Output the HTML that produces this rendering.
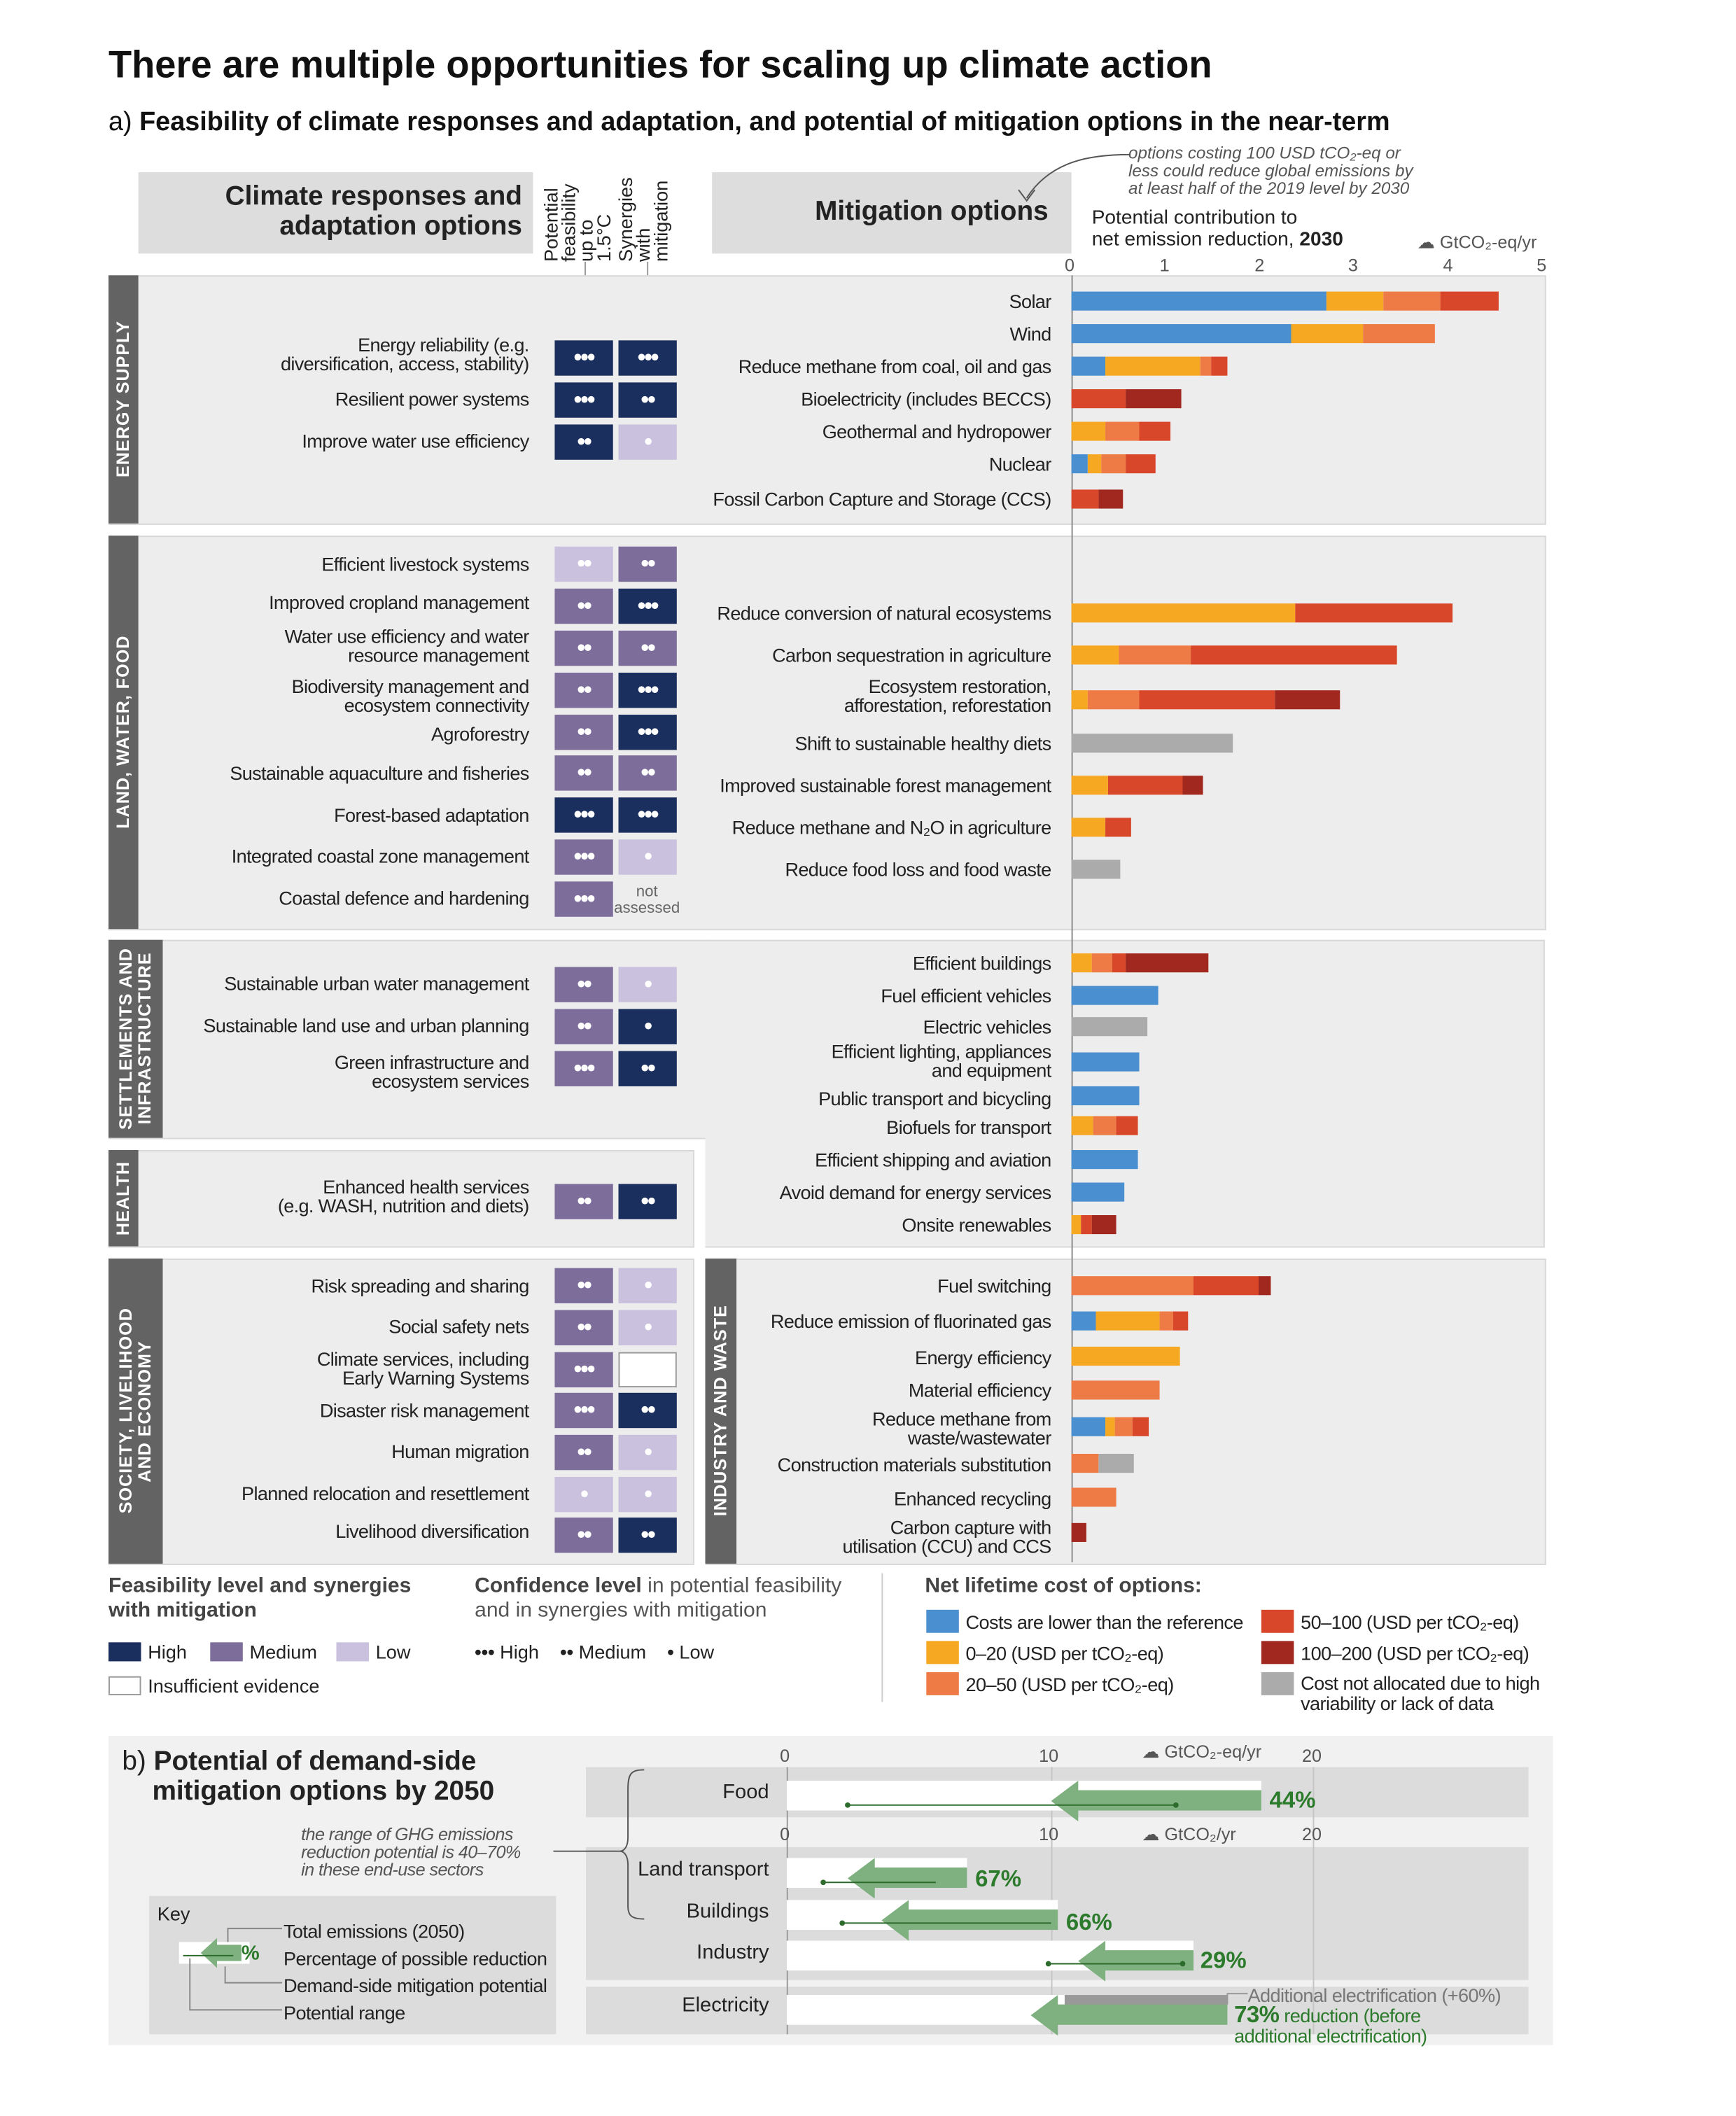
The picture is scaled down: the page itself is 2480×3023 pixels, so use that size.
<!DOCTYPE html>
<html><head><meta charset="utf-8">
<style>
body{margin:0;width:2480px;height:3021px;background:#fff;overflow:hidden}
#w{position:absolute;left:0;top:0;width:1280px;height:1560px;transform:scale(1.9375);transform-origin:0 0;font-family:"Liberation Sans Narrow","Liberation Sans",sans-serif;color:#222}
.a{position:absolute}
.pn{position:absolute;background:#ededed;border:1px solid #d8d8d8}
.sb{position:absolute;background:#636363;color:#fff;font-weight:bold;font-size:13px;writing-mode:vertical-rl;transform:rotate(180deg);display:flex;align-items:center;justify-content:center;text-align:center;line-height:14px;letter-spacing:.5px}
.lt{position:absolute;right:0;text-align:right;font-size:14px;letter-spacing:-0.35px;line-height:14px;white-space:nowrap}
.ll{position:absolute;width:390px;left:0}
.sq{position:absolute;width:43px;height:26px;color:#fff;font-size:17px;text-align:center;line-height:26px;font-weight:bold;letter-spacing:-1px}
.H{background:#1b2f5e}.M{background:#7d6d9b}.L{background:#c9c1dd}
.b{position:absolute;height:14px}
.bl{background:#4a8fd0}.ye{background:#f7a823}.or{background:#ee7b45}.rd{background:#d9472a}.dr{background:#a1281e}.gr{background:#ababab}
</style></head><body><div id="w">
<div class="a" style="left:80px;top:32px;font-family:'Liberation Sans',sans-serif;font-size:28px;font-weight:bold;color:#111">There are multiple opportunities for scaling up climate action</div>
<div class="a" style="left:80px;top:79px;font-family:'Liberation Sans',sans-serif;font-size:19.5px;color:#111">a) <b>Feasibility of climate responses and adaptation, and potential of mitigation options in the near-term</b></div>

<div class="a" style="left:102px;top:127px;width:291px;height:60px;background:#ddd"></div>
<div class="a" style="left:110px;top:134px;width:275px;text-align:right;font-size:20px;line-height:22px;font-weight:bold">Climate responses and<br>adaptation options</div>
<div class="a" style="left:400px;top:125px;width:55px;height:68px;writing-mode:vertical-rl;transform:rotate(180deg);font-size:14px;line-height:13px">Potential feasibility up to 1.5°C</div>
<div class="a" style="left:455px;top:125px;width:55px;height:68px;writing-mode:vertical-rl;transform:rotate(180deg);font-size:14px;line-height:13px">Synergies with mitigation</div>
<div class="a" style="left:431px;top:193px;width:1px;height:10px;background:#999"></div>
<div class="a" style="left:477px;top:193px;width:1px;height:10px;background:#999"></div>
<div class="a" style="left:525px;top:127px;width:265px;height:60px;background:#ddd"></div>
<div class="a" style="left:525px;top:145px;width:248px;text-align:right;font-size:20px;font-weight:bold">Mitigation options</div>
<div class="a" style="left:832px;top:107px;font-size:12.5px;font-style:italic;color:#555;line-height:13px">options costing 100 USD tCO₂-eq or<br>less could reduce global emissions by<br>at least half of the 2019 level by 2030</div>
<svg class="a" style="left:745px;top:108px" width="90" height="45"><path d="M88 6 C60 6 30 10 12 38" fill="none" stroke="#555"/><path d="M6 32 L12 40 L18 32" fill="none" stroke="#555"/></svg>
<div class="a" style="left:805px;top:153px;font-size:14.5px;line-height:16px">Potential contribution to<br>net emission reduction, <b>2030</b></div>
<div class="a" style="left:1045px;top:171px;font-size:13px;color:#555">☁ GtCO₂-eq/yr</div>
<div class="a" style="left:785px;top:188px;font-size:13px;color:#555">0</div>
<div class="a" style="left:855px;top:188px;font-size:13px;color:#555">1</div>
<div class="a" style="left:925px;top:188px;font-size:13px;color:#555">2</div>
<div class="a" style="left:994px;top:188px;font-size:13px;color:#555">3</div>
<div class="a" style="left:1064px;top:188px;font-size:13px;color:#555">4</div>
<div class="a" style="left:1133px;top:188px;font-size:13px;color:#555">5</div>

<div class="pn" style="left:80px;top:203px;width:1058px;height:182px"></div>
<div class="pn" style="left:80px;top:395px;width:1058px;height:289px"></div>
<div class="pn" style="left:80px;top:693px;width:440px;height:145px"></div>
<div class="pn" style="left:520px;top:693px;width:618px;height:225px;border-left:none"></div>
<div class="pn" style="left:80px;top:848px;width:430px;height:70px"></div>
<div class="pn" style="left:80px;top:928px;width:430px;height:224px"></div>
<div class="pn" style="left:520px;top:928px;width:618px;height:224px"></div>
<div class="sb" style="left:80px;top:203px;width:22px;height:183px">ENERGY SUPPLY</div>
<div class="sb" style="left:80px;top:395px;width:22px;height:290px">LAND, WATER, FOOD</div>
<div class="sb" style="left:80px;top:693px;width:40px;height:146px">SETTLEMENTS AND<br>INFRASTRUCTURE</div>
<div class="sb" style="left:80px;top:848px;width:22px;height:71px">HEALTH</div>
<div class="sb" style="left:80px;top:928px;width:40px;height:225px">SOCIETY, LIVELIHOOD<br>AND ECONOMY</div>
<div class="sb" style="left:520px;top:928px;width:23px;height:225px">INDUSTRY AND WASTE</div>
<div class="a" style="left:790px;top:203px;width:1px;height:949px;background:#888"></div>

<div class="ll">
<div class="lt" style="top:247px">Energy reliability (e.g.<br>diversification, access, stability)</div>
<div class="lt" style="top:287px">Resilient power systems</div>
<div class="lt" style="top:318px">Improve water use efficiency</div>
<div class="lt" style="top:409px">Efficient livestock systems</div>
<div class="lt" style="top:437px">Improved cropland management</div>
<div class="lt" style="top:462px">Water use efficiency and water<br>resource management</div>
<div class="lt" style="top:499px">Biodiversity management and<br>ecosystem connectivity</div>
<div class="lt" style="top:534px">Agroforestry</div>
<div class="lt" style="top:563px">Sustainable aquaculture and fisheries</div>
<div class="lt" style="top:594px">Forest-based adaptation</div>
<div class="lt" style="top:624px">Integrated coastal zone management</div>
<div class="lt" style="top:655px">Coastal defence and hardening</div>
<div class="lt" style="top:718px">Sustainable urban water management</div>
<div class="lt" style="top:749px">Sustainable land use and urban planning</div>
<div class="lt" style="top:776px">Green infrastructure and<br>ecosystem services</div>
<div class="lt" style="top:868px">Enhanced health services<br>(e.g. WASH, nutrition and diets)</div>
<div class="lt" style="top:941px">Risk spreading and sharing</div>
<div class="lt" style="top:971px">Social safety nets</div>
<div class="lt" style="top:995px">Climate services, including<br>Early Warning Systems</div>
<div class="lt" style="top:1033px">Disaster risk management</div>
<div class="lt" style="top:1063px">Human migration</div>
<div class="lt" style="top:1094px">Planned relocation and resettlement</div>
<div class="lt" style="top:1122px">Livelihood diversification</div>
</div>
<div class="sq H" style="left:409px;top:251px">•••</div><div class="sq H" style="left:456px;top:251px">•••</div>
<div class="sq H" style="left:409px;top:282px">•••</div><div class="sq H" style="left:456px;top:282px">••</div>
<div class="sq H" style="left:409px;top:313px">••</div><div class="sq L" style="left:456px;top:313px">•</div>
<div class="sq L" style="left:409px;top:403px">••</div><div class="sq M" style="left:456px;top:403px">••</div>
<div class="sq M" style="left:409px;top:434px">••</div><div class="sq H" style="left:456px;top:434px">•••</div>
<div class="sq M" style="left:409px;top:465px">••</div><div class="sq M" style="left:456px;top:465px">••</div>
<div class="sq M" style="left:409px;top:496px">••</div><div class="sq H" style="left:456px;top:496px">•••</div>
<div class="sq M" style="left:409px;top:527px">••</div><div class="sq H" style="left:456px;top:527px">•••</div>
<div class="sq M" style="left:409px;top:557px">••</div><div class="sq M" style="left:456px;top:557px">••</div>
<div class="sq H" style="left:409px;top:588px">•••</div><div class="sq H" style="left:456px;top:588px">•••</div>
<div class="sq M" style="left:409px;top:619px">•••</div><div class="sq L" style="left:456px;top:619px">•</div>
<div class="sq M" style="left:409px;top:650px">•••</div>
<div class="a" style="left:452px;top:652px;width:50px;text-align:center;font-size:11.5px;line-height:12px;color:#666">not<br>assessed</div>
<div class="sq M" style="left:409px;top:713px">••</div><div class="sq L" style="left:456px;top:713px">•</div>
<div class="sq M" style="left:409px;top:744px">••</div><div class="sq H" style="left:456px;top:744px">•</div>
<div class="sq M" style="left:409px;top:775px">•••</div><div class="sq H" style="left:456px;top:775px">••</div>
<div class="sq M" style="left:409px;top:873px">••</div><div class="sq H" style="left:456px;top:873px">••</div>
<div class="sq M" style="left:409px;top:935px">••</div><div class="sq L" style="left:456px;top:935px">•</div>
<div class="sq M" style="left:409px;top:966px">••</div><div class="sq L" style="left:456px;top:966px">•</div>
<div class="sq M" style="left:409px;top:997px">•••</div><div class="sq" style="left:456px;top:997px;background:#fff;border:1px solid #999;width:41px;height:24px"></div>
<div class="sq M" style="left:409px;top:1027px">•••</div><div class="sq H" style="left:456px;top:1027px">••</div>
<div class="sq M" style="left:409px;top:1058px">••</div><div class="sq L" style="left:456px;top:1058px">•</div>
<div class="sq L" style="left:409px;top:1089px">•</div><div class="sq L" style="left:456px;top:1089px">•</div>
<div class="sq M" style="left:409px;top:1119px">••</div><div class="sq H" style="left:456px;top:1119px">••</div>

<div class="a" style="left:0;top:0;width:775px">
<div class="lt" style="top:215px">Solar</div>
<div class="lt" style="top:239px">Wind</div>
<div class="lt" style="top:263px">Reduce methane from coal, oil and gas</div>
<div class="lt" style="top:287px">Bioelectricity (includes BECCS)</div>
<div class="lt" style="top:311px">Geothermal and hydropower</div>
<div class="lt" style="top:335px">Nuclear</div>
<div class="lt" style="top:361px">Fossil Carbon Capture and Storage (CCS)</div>
<div class="lt" style="top:445px">Reduce conversion of natural ecosystems</div>
<div class="lt" style="top:476px">Carbon sequestration in agriculture</div>
<div class="lt" style="top:499px">Ecosystem restoration,<br>afforestation, reforestation</div>
<div class="lt" style="top:541px">Shift to sustainable healthy diets</div>
<div class="lt" style="top:572px">Improved sustainable forest management</div>
<div class="lt" style="top:603px">Reduce methane and N₂O in agriculture</div>
<div class="lt" style="top:634px">Reduce food loss and food waste</div>
<div class="lt" style="top:703px">Efficient buildings</div>
<div class="lt" style="top:727px">Fuel efficient vehicles</div>
<div class="lt" style="top:750px">Electric vehicles</div>
<div class="lt" style="top:768px">Efficient lighting, appliances<br>and equipment</div>
<div class="lt" style="top:803px">Public transport and bicycling</div>
<div class="lt" style="top:824px">Biofuels for transport</div>
<div class="lt" style="top:848px">Efficient shipping and aviation</div>
<div class="lt" style="top:872px">Avoid demand for energy services</div>
<div class="lt" style="top:896px">Onsite renewables</div>
<div class="lt" style="top:941px">Fuel switching</div>
<div class="lt" style="top:967px">Reduce emission of fluorinated gas</div>
<div class="lt" style="top:994px">Energy efficiency</div>
<div class="lt" style="top:1018px">Material efficiency</div>
<div class="lt" style="top:1039px">Reduce methane from<br>waste/wastewater</div>
<div class="lt" style="top:1073px">Construction materials substitution</div>
<div class="lt" style="top:1098px">Enhanced recycling</div>
<div class="lt" style="top:1119px">Carbon capture with<br>utilisation (CCU) and CCS</div>
</div>

<div class="b bl" style="left:790px;top:215px;width:188px"></div><div class="b ye" style="left:978px;top:215px;width:42px"></div><div class="b or" style="left:1020px;top:215px;width:42px"></div><div class="b rd" style="left:1062px;top:215px;width:43px"></div>
<div class="b bl" style="left:790px;top:239px;width:162px"></div><div class="b ye" style="left:952px;top:239px;width:53px"></div><div class="b or" style="left:1005px;top:239px;width:53px"></div>
<div class="b bl" style="left:790px;top:263px;width:25px"></div><div class="b ye" style="left:815px;top:263px;width:70px"></div><div class="b or" style="left:885px;top:263px;width:8px"></div><div class="b rd" style="left:893px;top:263px;width:12px"></div>
<div class="b rd" style="left:790px;top:287px;width:40px"></div><div class="b dr" style="left:830px;top:287px;width:41px"></div>
<div class="b ye" style="left:790px;top:311px;width:25px"></div><div class="b or" style="left:815px;top:311px;width:25px"></div><div class="b rd" style="left:840px;top:311px;width:23px"></div>
<div class="b bl" style="left:790px;top:335px;width:12px"></div><div class="b ye" style="left:802px;top:335px;width:10px"></div><div class="b or" style="left:812px;top:335px;width:18px"></div><div class="b rd" style="left:830px;top:335px;width:22px"></div>
<div class="b rd" style="left:790px;top:361px;width:20px"></div><div class="b dr" style="left:810px;top:361px;width:18px"></div>
<div class="b ye" style="left:790px;top:445px;width:165px"></div><div class="b rd" style="left:955px;top:445px;width:116px"></div>
<div class="b ye" style="left:790px;top:476px;width:35px"></div><div class="b or" style="left:825px;top:476px;width:53px"></div><div class="b rd" style="left:878px;top:476px;width:152px"></div>
<div class="b ye" style="left:790px;top:509px;width:12px"></div><div class="b or" style="left:802px;top:509px;width:38px"></div><div class="b rd" style="left:840px;top:509px;width:100px"></div><div class="b dr" style="left:940px;top:509px;width:48px"></div>
<div class="b gr" style="left:790px;top:541px;width:119px"></div>
<div class="b ye" style="left:790px;top:572px;width:27px"></div><div class="b rd" style="left:817px;top:572px;width:55px"></div><div class="b dr" style="left:872px;top:572px;width:15px"></div>
<div class="b ye" style="left:790px;top:603px;width:25px"></div><div class="b rd" style="left:815px;top:603px;width:19px"></div>
<div class="b gr" style="left:790px;top:634px;width:36px"></div>
<div class="b ye" style="left:790px;top:703px;width:15px"></div><div class="b or" style="left:805px;top:703px;width:15px"></div><div class="b rd" style="left:820px;top:703px;width:10px"></div><div class="b dr" style="left:830px;top:703px;width:61px"></div>
<div class="b bl" style="left:790px;top:727px;width:64px"></div>
<div class="b gr" style="left:790px;top:750px;width:56px"></div>
<div class="b bl" style="left:790px;top:776px;width:50px"></div>
<div class="b bl" style="left:790px;top:801px;width:50px"></div>
<div class="b ye" style="left:790px;top:823px;width:16px"></div><div class="b or" style="left:806px;top:823px;width:17px"></div><div class="b rd" style="left:823px;top:823px;width:16px"></div>
<div class="b bl" style="left:790px;top:848px;width:49px"></div>
<div class="b bl" style="left:790px;top:872px;width:39px"></div>
<div class="b ye" style="left:790px;top:896px;width:7px"></div><div class="b rd" style="left:797px;top:896px;width:8px"></div><div class="b dr" style="left:805px;top:896px;width:18px"></div>
<div class="b or" style="left:790px;top:941px;width:90px"></div><div class="b rd" style="left:880px;top:941px;width:48px"></div><div class="b dr" style="left:928px;top:941px;width:9px"></div>
<div class="b bl" style="left:790px;top:967px;width:18px"></div><div class="b ye" style="left:808px;top:967px;width:47px"></div><div class="b or" style="left:855px;top:967px;width:10px"></div><div class="b rd" style="left:865px;top:967px;width:11px"></div>
<div class="b ye" style="left:790px;top:993px;width:80px"></div>
<div class="b or" style="left:790px;top:1018px;width:65px"></div>
<div class="b bl" style="left:790px;top:1045px;width:25px"></div><div class="b ye" style="left:815px;top:1045px;width:7px"></div><div class="b or" style="left:822px;top:1045px;width:13px"></div><div class="b rd" style="left:835px;top:1045px;width:12px"></div>
<div class="b or" style="left:790px;top:1072px;width:20px"></div><div class="b gr" style="left:810px;top:1072px;width:26px"></div>
<div class="b or" style="left:790px;top:1097px;width:33px"></div>
<div class="b dr" style="left:790px;top:1123px;width:11px"></div>

<div class="a" style="left:80px;top:1161px;font-size:15.5px;line-height:18px;font-weight:bold;color:#444">Feasibility level and synergies<br>with mitigation</div>
<div class="a H" style="left:80px;top:1211px;width:24px;height:14px"></div><div class="a" style="left:109px;top:1210px;font-size:14px">High</div>
<div class="a M" style="left:155px;top:1211px;width:24px;height:14px"></div><div class="a" style="left:184px;top:1210px;font-size:14px">Medium</div>
<div class="a L" style="left:248px;top:1211px;width:24px;height:14px"></div><div class="a" style="left:277px;top:1210px;font-size:14px">Low</div>
<div class="a" style="left:80px;top:1236px;width:22px;height:12px;border:1px solid #999"></div><div class="a" style="left:109px;top:1235px;font-size:14px">Insufficient evidence</div>
<div class="a" style="left:350px;top:1161px;font-size:15.5px;line-height:18px;color:#555"><b style="color:#444">Confidence level</b> in potential feasibility<br>and in synergies with mitigation</div>
<div class="a" style="left:350px;top:1210px;font-size:14px"><b>•••</b> High &nbsp;&nbsp; <b>••</b> Medium &nbsp;&nbsp; <b>•</b> Low</div>
<div class="a" style="left:650px;top:1160px;width:1px;height:95px;background:#ccc"></div>
<div class="a" style="left:682px;top:1161px;font-size:15.5px;font-weight:bold;color:#444">Net lifetime cost of options:</div>
<div class="a bl" style="left:683px;top:1187px;width:24px;height:17px"></div><div class="a" style="left:712px;top:1188px;font-size:14px;letter-spacing:-0.3px">Costs are lower than the reference</div>
<div class="a ye" style="left:683px;top:1210px;width:24px;height:17px"></div><div class="a" style="left:712px;top:1211px;font-size:14px;letter-spacing:-0.3px">0–20 (USD per tCO₂-eq)</div>
<div class="a or" style="left:683px;top:1233px;width:24px;height:17px"></div><div class="a" style="left:712px;top:1234px;font-size:14px;letter-spacing:-0.3px">20–50 (USD per tCO₂-eq)</div>
<div class="a rd" style="left:930px;top:1187px;width:24px;height:17px"></div><div class="a" style="left:959px;top:1188px;font-size:14px;letter-spacing:-0.3px">50–100 (USD per tCO₂-eq)</div>
<div class="a dr" style="left:930px;top:1210px;width:24px;height:17px"></div><div class="a" style="left:959px;top:1211px;font-size:14px;letter-spacing:-0.3px">100–200 (USD per tCO₂-eq)</div>
<div class="a gr" style="left:930px;top:1233px;width:24px;height:17px"></div><div class="a" style="left:959px;top:1234px;font-size:14px;line-height:15px;letter-spacing:-0.3px">Cost not allocated due to high<br>variability or lack of data</div>

<div class="a" style="left:80px;top:1280px;width:1065px;height:228px;background:#f1f1f1"></div>
<div class="a" style="left:90px;top:1288px;font-family:'Liberation Sans',sans-serif;font-size:20px;line-height:22px">b) <b>Potential of demand-side<br>&nbsp;&nbsp;&nbsp;&nbsp;mitigation options by 2050</b></div>
<div class="a" style="left:222px;top:1346px;font-size:13px;line-height:13px;font-style:italic;color:#555;letter-spacing:-0.3px">the range of GHG emissions<br>reduction potential is 40–70%<br>in these end-use sectors</div>
<div class="a" style="left:432px;top:1303px;width:695px;height:37px;background:#dcdcdc"></div>
<div class="a" style="left:432px;top:1362px;width:695px;height:98px;background:#dcdcdc"></div>
<div class="a" style="left:432px;top:1465px;width:695px;height:35px;background:#dcdcdc"></div>
<svg class="a" style="left:405px;top:1300px" width="80" height="125"><path d="M3 65 L52 65" stroke="#555" fill="none"/><path d="M70 5 C60 5 58 8 58 20 L58 55 C58 62 55 65 52 65 C55 65 58 68 58 75 L58 105 C58 112 60 115 70 115" stroke="#555" fill="none"/></svg>
<div class="a" style="left:580px;top:1303px;width:1px;height:197px;background:#999"></div>
<div class="a" style="left:775px;top:1303px;width:1px;height:197px;background:#c4c4c4"></div>
<div class="a" style="left:968px;top:1303px;width:1px;height:197px;background:#c4c4c4"></div>
<div class="a" style="left:575px;top:1287px;font-size:13px;color:#555">0</div><div class="a" style="left:766px;top:1287px;font-size:13px;color:#555">10</div><div class="a" style="left:960px;top:1287px;font-size:13px;color:#555">20</div>
<div class="a" style="left:842px;top:1284px;font-size:13px;color:#555">☁ GtCO₂-eq/yr</div>
<div class="a" style="left:575px;top:1345px;font-size:13px;color:#555">0</div><div class="a" style="left:766px;top:1345px;font-size:13px;color:#555">10</div><div class="a" style="left:960px;top:1345px;font-size:13px;color:#555">20</div>
<div class="a" style="left:842px;top:1345px;font-size:13px;color:#555">☁ GtCO₂/yr</div>
<div class="a" style="width:135px;left:432px;top:1313px;font-size:15px;text-align:right">Food</div>
<div class="a" style="width:135px;left:432px;top:1370px;font-size:15px;text-align:right">Land transport</div>
<div class="a" style="width:135px;left:432px;top:1401px;font-size:15px;text-align:right">Buildings</div>
<div class="a" style="width:135px;left:432px;top:1431px;font-size:15px;text-align:right">Industry</div>
<div class="a" style="width:135px;left:432px;top:1470px;font-size:15px;text-align:right">Electricity</div>
<svg class="a" style="left:0;top:0" width="1280" height="1560">
<g fill="#fff"><rect x="580" y="1313" width="350" height="22"/><rect x="580" y="1370" width="133" height="22"/><rect x="580" y="1401" width="200" height="22"/><rect x="580" y="1431" width="300" height="22"/><rect x="580" y="1471" width="325" height="22"/></g>
<rect x="785" y="1471" width="120" height="12" fill="#999"/>
<g fill="#7fb07f">
<path d="M930 1320 L795 1320 L795 1313 L775 1328 L795 1343 L795 1335 L930 1335Z"/>
<path d="M713 1377 L645 1377 L645 1370 L625 1385 L645 1400 L645 1392 L713 1392Z"/>
<path d="M780 1408 L670 1408 L670 1401 L650 1416 L670 1431 L670 1423 L780 1423Z"/>
<path d="M880 1438 L815 1438 L815 1431 L795 1446 L815 1461 L815 1453 L880 1453Z"/>
<path d="M905 1478 L780 1478 L780 1471 L760 1486 L780 1501 L780 1493 L905 1493Z"/>
</g>
<g stroke="#2c6b2c" stroke-width="1"><line x1="625" y1="1331" x2="867" y2="1331"/><line x1="607" y1="1388" x2="690" y2="1388"/><line x1="621" y1="1418" x2="775" y2="1418"/><line x1="773" y1="1448" x2="872" y2="1448"/></g>
<g fill="#2c6b2c"><circle cx="625" cy="1331" r="2"/><circle cx="867" cy="1331" r="2"/><circle cx="607" cy="1388" r="2"/><circle cx="621" cy="1418" r="2"/><circle cx="773" cy="1448" r="2"/><circle cx="872" cy="1448" r="2"/></g>
<path d="M905 1478 L905 1470 L920 1470" stroke="#999" fill="none"/>
</svg>
<div class="a" style="left:936px;top:1318px;font-size:17px;font-weight:bold;color:#2c7a2c">44%</div>
<div class="a" style="left:719px;top:1376px;font-size:17px;font-weight:bold;color:#2c7a2c">67%</div>
<div class="a" style="left:786px;top:1408px;font-size:17px;font-weight:bold;color:#2c7a2c">66%</div>
<div class="a" style="left:885px;top:1436px;font-size:17px;font-weight:bold;color:#2c7a2c">29%</div>
<div class="a" style="left:920px;top:1463px;font-size:14px;color:#777;letter-spacing:-0.3px">Additional electrification (+60%)</div>
<div class="a" style="left:910px;top:1478px;font-size:14px;line-height:15px;color:#2c7a2c;letter-spacing:-0.3px"><b style="font-size:17px">73%</b> reduction (before<br>additional electrification)</div>
<div class="a" style="left:110px;top:1398px;width:300px;height:102px;background:#dcdcdc"></div>
<div class="a" style="left:116px;top:1403px;font-size:14px">Key</div>
<div class="a" style="left:209px;top:1414px;font-size:14px;line-height:20px;letter-spacing:-0.3px">Total emissions (2050)<br>Percentage of possible reduction<br>Demand-side mitigation potential<br>Potential range</div>
<svg class="a" style="left:110px;top:1398px" width="110" height="100">
<rect x="22" y="34" width="52" height="16" fill="#fff"/>
<path d="M68 36 L50 36 L50 31 L38 42 L50 53 L50 48 L68 48Z" fill="#7fb07f"/>
<line x1="25" y1="44" x2="62" y2="44" stroke="#2c6b2c"/>
<path d="M58 34 L58 24 L98 24 M56 52 L56 64 L98 64 M30 46 L30 84 L98 84" stroke="#888" fill="none"/>
</svg>
<div class="a" style="left:178px;top:1432px;font-size:15px;font-weight:bold;color:#2c7a2c">%</div>
</div></body></html>
